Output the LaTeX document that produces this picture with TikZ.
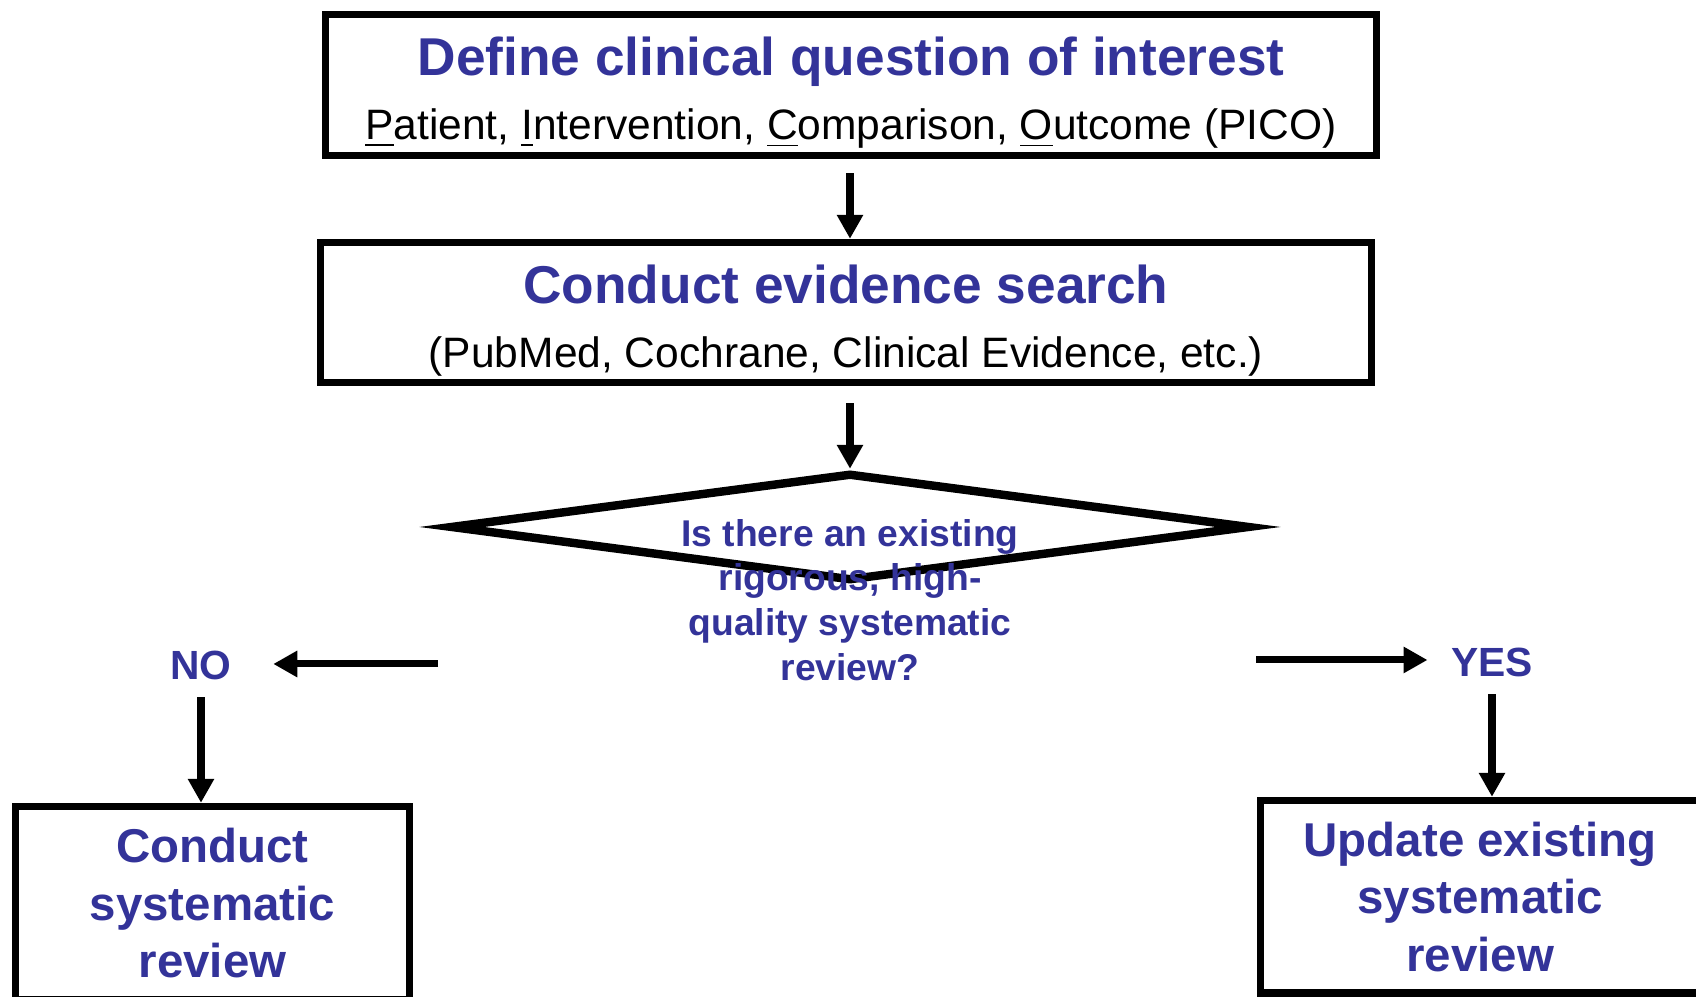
\documentclass[tikz,border=0pt]{standalone}
\usepackage{fontspec}
\setmainfont{Liberation Sans}
\usetikzlibrary{arrows.meta,shapes.geometric}
\definecolor{qblue}{RGB}{51,51,153}

\begin{document}
\begin{tikzpicture}[
  box/.style={draw, line width=2.1pt, inner sep=0pt, align=center, text=qblue},
  arr/.style={line width=2pt, -{Triangle[length=0.24cm,width=0.25cm]}},
  lbl/.style={inner sep=0pt, text=qblue, font=\fontsize{11.6}{14}\selectfont\bfseries}
]
  \useasboundingbox (0,0) rectangle (16.96,9.97);

  % Question and search
  \node[box, minimum width=10.51cm, minimum height=1.41cm,
        font=\fontsize{12.1}{18.2}\selectfont] (define) at (8.51,9.12)
    {\rule{0pt}{15.6pt}{\fontsize{15.15}{18.2}\selectfont\bfseries Define clinical question of interest}\\
     {\color{black}\underline{P}atient, \underline{I}ntervention, \underline{C}omparison, \underline{O}utcome (PICO)}};
  \node[box, minimum width=10.51cm, minimum height=1.40cm,
        font=\fontsize{12.1}{18.2}\selectfont] (search) at (8.46,6.845)
    {\rule{0pt}{15.6pt}{\fontsize{15.15}{18.2}\selectfont\bfseries Conduct evidence search}\\
     {\color{black}(PubMed, Cochrane, Clinical Evidence, etc.)}};

  % Decision
  \node[draw, diamond, line width=2.4pt, inner sep=0pt,
        minimum width=8cm, minimum height=1.08cm] (decide) at (8.50,4.70) {};
  \node[align=center, text=qblue, font=\fontsize{10.6}{12.7}\selectfont\bfseries] (question) at (8.50,3.97)
    {Is there an existing\\rigorous, high-\\quality systematic\\review?};

  % Answers
  \node[lbl] (no) at (2.01,3.32) {NO};
  \node[lbl] (yes) at (14.92,3.35) {YES};
  \coordinate (noStart) at (4.38,3.33);   % left of diamond
  \coordinate (yesStart) at (12.56,3.37); % right of diamond

  % Outcome boxes
  \node[box, minimum width=3.94cm, minimum height=1.935cm,
        font=\fontsize{13.5}{16.4}\selectfont\bfseries] (conduct) at (2.125,0.9375)
    {Conduct\\systematic\\review};
  \node[box, minimum width=4.395cm, minimum height=1.925cm,
        font=\fontsize{13.5}{16.4}\selectfont\bfseries] (update) at (14.8025,1.0025)
    {Update existing\\systematic\\review};

  % Arrows
  \draw[arr, shorten <=0.14cm] (decide.north |- define.south) -- (decide.north |- search.north);
  \draw[arr, shorten <=0.17cm] (decide.north |- search.south) -- (decide.north);
  \draw[arr, shorten >=0.41cm] (noStart) -- (noStart -| no.east);
  \draw[arr, shorten <=0.17cm] (no.south) -- (no.south |- conduct.north);
  \draw[arr, shorten >=0.23cm] (yesStart) -- (yesStart -| yes.west);
  \draw[arr, shorten <=0.17cm] (yes.south) -- (yes.south |- update.north);
\end{tikzpicture}
\end{document}
